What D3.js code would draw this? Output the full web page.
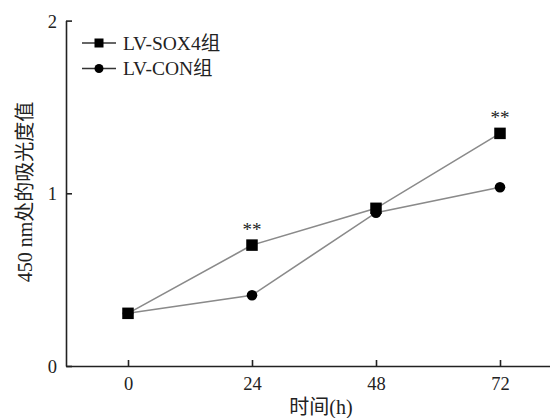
<!DOCTYPE html>
<html>
<head>
<meta charset="utf-8">
<script src="https://cdn.jsdelivr.net/npm/d3@7"></script>
<style>
  body { margin: 0; background: #fff; }
  text { font-family: "Liberation Serif", "Noto Sans CJK SC", serif; fill: #222; }
</style>
</head>
<body>
<svg id="chart"></svg>
<script>
// data
const hours = [0, 24, 48, 72];
const sox4Values = [0.305, 0.70, 0.913, 1.347];
const conValues = [0.305, 0.41, 0.888, 1.035];
const yTicks = [0, 1, 2];
const seriesNames = ['LV-SOX4组', 'LV-CON组'];
const starHours = [24, 72];

const width = 550, height = 418;

const svg = d3.select('#chart')
    .attr('width', width)
    .attr('height', height);

// scales
const xScale = d3.scaleLinear()
    .domain([-12, 84])
    .range([66, 562]);

const yScale = d3.scaleLinear()
    .domain([0, 2])
    .range([366, 20.6]);

// axes
const xAxis = d3.axisTop(xScale)
    .tickValues(hours)
    .tickSize(6)
    .tickSizeOuter(0)
    .tickFormat(d3.format('d'));

const yAxis = d3.axisRight(yScale)
    .tickValues(yTicks)
    .tickSize(6)
    .tickSizeOuter(0)
    .tickFormat(d3.format('d'));

const xAxisG = svg.append('g')
    .attr('transform', `translate(0,${yScale(0)})`)
    .call(xAxis);

const yAxisG = svg.append('g')
    .attr('transform', `translate(${xScale(-12)},0)`)
    .call(yAxis);

[xAxisG, yAxisG].forEach(g => {
  g.select('.domain').attr('stroke', '#222').attr('stroke-width', 1.6);
  g.selectAll('.tick line').attr('stroke', '#222').attr('stroke-width', 1.6);
  g.selectAll('text')
      .style('font-family', '"Liberation Serif", serif')
      .style('font-size', '18.5px')
      .attr('fill', '#222');
});

// move tick labels outside
xAxisG.selectAll('.tick text').attr('y', 24).attr('dy', null);
yAxisG.selectAll('.tick text')
    .attr('x', -9)
    .attr('text-anchor', 'end')
    .attr('dy', '0.35em');

// lines
const line = d3.line()
    .x((d, i) => xScale(hours[i]))
    .y(d => yScale(d));

svg.append('path')
    .datum(sox4Values)
    .attr('fill', 'none')
    .attr('stroke', '#8a8a8a')
    .attr('stroke-width', 1.6)
    .attr('d', line);

svg.append('path')
    .datum(conValues)
    .attr('fill', 'none')
    .attr('stroke', '#8a8a8a')
    .attr('stroke-width', 1.6)
    .attr('d', line);

// markers
svg.selectAll('.dot')
    .data(conValues)
    .join('circle')
    .attr('class', 'dot')
    .attr('cx', (d, i) => xScale(hours[i]))
    .attr('cy', d => yScale(d))
    .attr('r', 5.3)
    .attr('fill', '#000');

const sq = 11.5;
svg.selectAll('.sq')
    .data(sox4Values)
    .join('rect')
    .attr('class', 'sq')
    .attr('x', (d, i) => xScale(hours[i]) - sq / 2)
    .attr('y', d => yScale(d) - sq / 2)
    .attr('width', sq)
    .attr('height', sq)
    .attr('fill', '#000');

// significance stars
svg.selectAll('.star')
    .data(starHours)
    .join('text')
    .attr('class', 'star')
    .attr('x', d => xScale(d))
    .attr('y', d => yScale(sox4Values[hours.indexOf(d)]) - 9)
    .attr('text-anchor', 'middle')
    .style('font-size', '19px')
    .text('**');

// legend
const legend = svg.append('g');
seriesNames.forEach((name, i) => {
  const ly = 43 + i * 25.5;
  legend.append('line')
      .attr('x1', 82).attr('x2', 116)
      .attr('y1', ly).attr('y2', ly)
      .attr('stroke', '#333')
      .attr('stroke-width', 1.6);
  if (i === 0) {
    legend.append('rect')
        .attr('x', 99 - 4.5).attr('y', ly - 4.5)
        .attr('width', 9).attr('height', 9)
        .attr('fill', '#000');
  } else {
    legend.append('circle')
        .attr('cx', 99).attr('cy', ly).attr('r', 4.5)
        .attr('fill', '#000');
  }
  legend.append('text')
      .attr('x', 123)
      .attr('y', ly)
      .attr('dy', '0.35em')
      .style('font-size', '19.5px')
      .text(name);
});

// axis titles
svg.append('text')
    .attr('x', 321)
    .attr('y', 414)
    .attr('text-anchor', 'middle')
    .style('font-size', '20px')
    .text('时间(h)');

svg.append('text')
    .attr('transform', 'translate(32,192) rotate(-90)')
    .attr('text-anchor', 'middle')
    .style('font-size', '20px')
    .text('450 nm处的吸光度值');
</script>
</body>
</html>
